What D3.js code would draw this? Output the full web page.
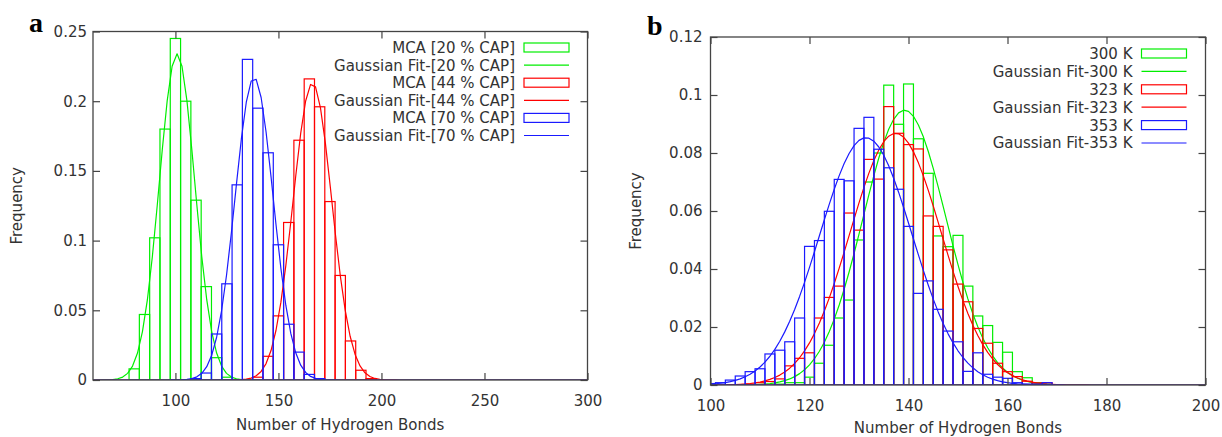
<!DOCTYPE html>
<html>
<head>
<meta charset="utf-8">
<script src="https://cdn.jsdelivr.net/npm/d3@7"></script>
<style>
  html, body { margin: 0; padding: 0; background: #fff; }
  svg { display: block; font-family: "DejaVu Sans", sans-serif; }
</style>
</head>
<body>
<svg id="chart" width="1222" height="437"></svg>
<script>
// ---------- Panel a: H-bond count distributions at three CAP loadings (bin width 5) ----------
const binsA = [75, 80, 85, 90, 95, 100, 105, 110, 115, 120, 125, 130, 135, 140, 145,
               150, 155, 160, 165, 170, 175, 180, 185, 190, 195];
const mca20 = [0, 0.008, 0.047, 0.102, 0.180, 0.245, 0.200, 0.129, 0.067, 0.016, 0.002, 0, 0, 0, 0,
               0, 0, 0, 0, 0, 0, 0, 0, 0, 0];
const mca44 = [0, 0, 0, 0, 0, 0, 0, 0, 0, 0, 0, 0, 0, 0.002, 0.017,
               0.046, 0.113, 0.172, 0.216, 0.196, 0.128, 0.075, 0.028, 0.007, 0.001];
const mca70 = [0, 0, 0, 0, 0, 0, 0, 0.001, 0.005, 0.033, 0.069, 0.140, 0.230, 0.195, 0.163,
               0.097, 0.040, 0.020, 0.004, 0.001, 0, 0, 0, 0, 0];
// Gaussian fit parameters: [centre, peak height, standard deviation]
const fit20 = [100.8, 0.234, 8.6];
const fit44 = [166.5, 0.213, 9.35];
const fit70 = [138.2, 0.217, 9.2];
const labelsA = ["MCA [20 % CAP]", "Gaussian Fit-[20 % CAP]",
                 "MCA [44 % CAP]", "Gaussian Fit-[44 % CAP]",
                 "MCA [70 % CAP]", "Gaussian Fit-[70 % CAP]"];
const xTicksA = [100, 150, 200, 250, 300];
const yTicksA = [0, 0.05, 0.1, 0.15, 0.2, 0.25];

// ---------- Panel b: H-bond count distributions at three temperatures (bin width 2) ----------
const binsB = [100, 102, 104, 106, 108, 110, 112, 114, 116, 118, 120, 122, 124, 126, 128, 130, 132, 134,
               136, 138, 140, 142, 144, 146, 148, 150, 152, 154, 156, 158, 160, 162, 164, 166, 168, 170];
const t300 = [0, 0, 0, 0, 0, 0, 0, 0.0003, 0.0008, 0.0008, 0.0027, 0.0075, 0.0137, 0.0231, 0.0293, 0.0500, 0.0700, 0.0800,
              0.1034, 0.0899, 0.1038, 0.0849, 0.0730, 0.0514, 0.0477, 0.0516, 0.0341, 0.0238, 0.0205, 0.0147, 0.0113, 0.0046, 0.0025, 0.0008, 0.0003, 0];
const t323 = [0, 0, 0, 0, 0.0003, 0.0008, 0.0012, 0.0021, 0.0066, 0.0092, 0.0111, 0.0231, 0.0302, 0.0341, 0.0593, 0.0534, 0.0778, 0.0710,
              0.0960, 0.0868, 0.0829, 0.0814, 0.0583, 0.0547, 0.0466, 0.0348, 0.0287, 0.0195, 0.0144, 0.0075, 0.0046, 0.0029, 0.0013, 0.0007, 0.0008, 0];
const t353 = [0.0005, 0.0008, 0.0017, 0.0031, 0.0046, 0.0056, 0.0107, 0.0120, 0.0149, 0.0231, 0.0478, 0.0498, 0.0599, 0.0709, 0.0704, 0.0885, 0.0923, 0.0813,
              0.0749, 0.0675, 0.0547, 0.0316, 0.0359, 0.0261, 0.0186, 0.0149, 0.0047, 0.0111, 0.0037, 0.0027, 0.0023, 0.0008, 0.0003, 0.0003, 0.0008, 0];
const fit300 = [139.2, 0.0948, 8.4];
const fit323 = [137.4, 0.0868, 9.2];
const fit353 = [131.4, 0.0853, 9.35];
const labelsB = ["300 K", "Gaussian Fit-300 K", "323 K", "Gaussian Fit-323 K", "353 K", "Gaussian Fit-353 K"];
const xTicksB = [100, 120, 140, 160, 180, 200];
const yTicksB = [0, 0.02, 0.04, 0.06, 0.08, 0.1, 0.12];

const GREEN = "#00ee00", RED = "#ff0000", BLUE = "#1a1aff";
const FRAME = "#444", TEXT = "#333";
const FONT_PX = "15px";

const svg = d3.select("#chart");

function gaussian(p) {
  return v => p[1] * Math.exp(-((v - p[0]) ** 2) / (2 * p[2] * p[2]));
}

function drawPanel(cfg) {
  const x = d3.scaleLinear().domain(cfg.xDomain).range([cfg.left, cfg.right]);
  const y = d3.scaleLinear().domain(cfg.yDomain).range([cfg.bottom, cfg.top]);
  const g = svg.append("g");

  g.append("clipPath").attr("id", cfg.id + "-clip")
    .append("rect")
    .attr("x", cfg.left).attr("y", cfg.top)
    .attr("width", cfg.right - cfg.left).attr("height", cfg.bottom - cfg.top);

  const plot = g.append("g").attr("clip-path", `url(#${cfg.id}-clip)`);
  const half = cfg.binWidth / 2;

  // one outlined box per non-empty bin, followed by the fitted curve
  cfg.series.forEach(s => {
    const rows = cfg.bins.map((b, i) => ({ b, v: s.values[i] })).filter(d => d.v > 0);
    plot.append("g").selectAll("rect").data(rows).join("rect")
      .attr("x", d => x(d.b - half))
      .attr("y", d => y(d.v))
      .attr("width", d => x(d.b + half) - x(d.b - half))
      .attr("height", d => y(0) - y(d.v))
      .attr("fill", "none")
      .attr("stroke", s.color)
      .attr("stroke-width", 1.2);

    const f = gaussian(s.fit);
    const xs = d3.range(101).map(i => cfg.xDomain[0] + i * (cfg.xDomain[1] - cfg.xDomain[0]) / 100);
    plot.append("path")
      .datum(xs)
      .attr("fill", "none")
      .attr("stroke", s.color)
      .attr("stroke-width", 1.2)
      .attr("stroke-linejoin", "round")
      .attr("d", d3.line().x(v => x(v)).y(v => y(f(v))));
  });

  // axes with inward ticks, mirrored on top and right
  const tickLen = 7;
  const styleAxis = sel => {
    sel.select(".domain").remove();
    sel.selectAll(".tick line").attr("stroke", FRAME).attr("stroke-width", 1.2);
    sel.selectAll("text").attr("fill", TEXT).style("font-size", FONT_PX)
      .style("font-family", "'DejaVu Sans', sans-serif");
  };
  g.append("g").attr("transform", `translate(0,${cfg.bottom})`)
    .call(d3.axisBottom(x).tickValues(cfg.xTicks).tickSizeInner(-tickLen).tickSizeOuter(0)
      .tickPadding(cfg.xPad).tickFormat(d3.format("d")))
    .call(styleAxis);
  g.append("g").attr("transform", `translate(0,${cfg.top})`)
    .call(d3.axisTop(x).tickValues(cfg.xTicks).tickSizeInner(-tickLen).tickSizeOuter(0).tickFormat(""))
    .call(styleAxis);
  g.append("g").attr("transform", `translate(${cfg.left},0)`)
    .call(d3.axisLeft(y).tickValues(cfg.yTicks).tickSizeInner(-tickLen).tickSizeOuter(0)
      .tickPadding(cfg.yPad).tickFormat(d => d3.format("~g")(d)))
    .call(styleAxis);
  g.append("g").attr("transform", `translate(${cfg.right},0)`)
    .call(d3.axisRight(y).tickValues(cfg.yTicks).tickSizeInner(-tickLen).tickSizeOuter(0).tickFormat(""))
    .call(styleAxis);

  // plot border
  g.append("rect")
    .attr("x", cfg.left).attr("y", cfg.top)
    .attr("width", cfg.right - cfg.left).attr("height", cfg.bottom - cfg.top)
    .attr("fill", "none").attr("stroke", FRAME).attr("stroke-width", 1.3);

  // axis titles
  g.append("text")
    .attr("x", (cfg.left + cfg.right) / 2).attr("y", cfg.bottom + cfg.xTitleGap)
    .attr("text-anchor", "middle").attr("fill", TEXT).style("font-size", FONT_PX)
    .text("Number of Hydrogen Bonds");
  g.append("text")
    .attr("transform", `translate(${cfg.yTitleX},${(cfg.top + cfg.bottom) / 2}) rotate(-90)`)
    .attr("text-anchor", "middle").attr("fill", TEXT).style("font-size", FONT_PX)
    .text("Frequency");

  // panel letter
  g.append("text")
    .attr("x", cfg.letterX).attr("y", cfg.letterY)
    .attr("fill", "#000")
    .style("font-family", "'Liberation Serif', 'DejaVu Serif', serif")
    .style("font-weight", "bold").style("font-size", "28px")
    .text(cfg.letter);

  // legend
  const leg = g.append("g");
  cfg.series.forEach((s, i) => {
    [0, 1].forEach(k => {
      const row = i * 2 + k;
      const cy = cfg.legendY + row * cfg.legendStep;
      leg.append("text")
        .attr("x", cfg.legendTextX).attr("y", cy).attr("dy", "0.36em")
        .attr("text-anchor", "end").attr("fill", TEXT).style("font-size", FONT_PX)
        .text(cfg.labels[row]);
      if (k === 0) {
        leg.append("rect")
          .attr("x", cfg.legendTextX + 9).attr("y", cy - 4.5)
          .attr("width", 45).attr("height", 9)
          .attr("fill", "none").attr("stroke", s.color).attr("stroke-width", 1.2);
      } else {
        leg.append("line")
          .attr("x1", cfg.legendTextX + 9).attr("x2", cfg.legendTextX + 54)
          .attr("y1", cy).attr("y2", cy)
          .attr("stroke", s.color).attr("stroke-width", 1.2);
      }
    });
  });
}

drawPanel({
  id: "pa", letter: "a", letterX: 29, letterY: 32,
  xDomain: [60, 300], yDomain: [0, 0.25],
  left: 93, right: 587.5, top: 31.5, bottom: 380,
  bins: binsA, binWidth: 5,
  series: [
    { values: mca20, fit: fit20, color: GREEN },
    { values: mca44, fit: fit44, color: RED },
    { values: mca70, fit: fit70, color: BLUE }
  ],
  labels: labelsA, xTicks: xTicksA, yTicks: yTicksA,
  xPad: 15, yPad: 6, xTitleGap: 50, yTitleX: 22,
  legendTextX: 515, legendY: 47.5, legendStep: 17.6
});

drawPanel({
  id: "pb", letter: "b", letterX: 647, letterY: 35,
  xDomain: [100, 200], yDomain: [0, 0.12],
  left: 710.5, right: 1205.5, top: 37, bottom: 385,
  bins: binsB, binWidth: 2,
  series: [
    { values: t300, fit: fit300, color: GREEN },
    { values: t323, fit: fit323, color: RED },
    { values: t353, fit: fit353, color: BLUE }
  ],
  labels: labelsB, xTicks: xTicksB, yTicks: yTicksB,
  xPad: 15, yPad: 8, xTitleGap: 47.5, yTitleX: 641,
  legendTextX: 1132.5, legendY: 53.5, legendStep: 17.9
});
</script>
</body>
</html>
